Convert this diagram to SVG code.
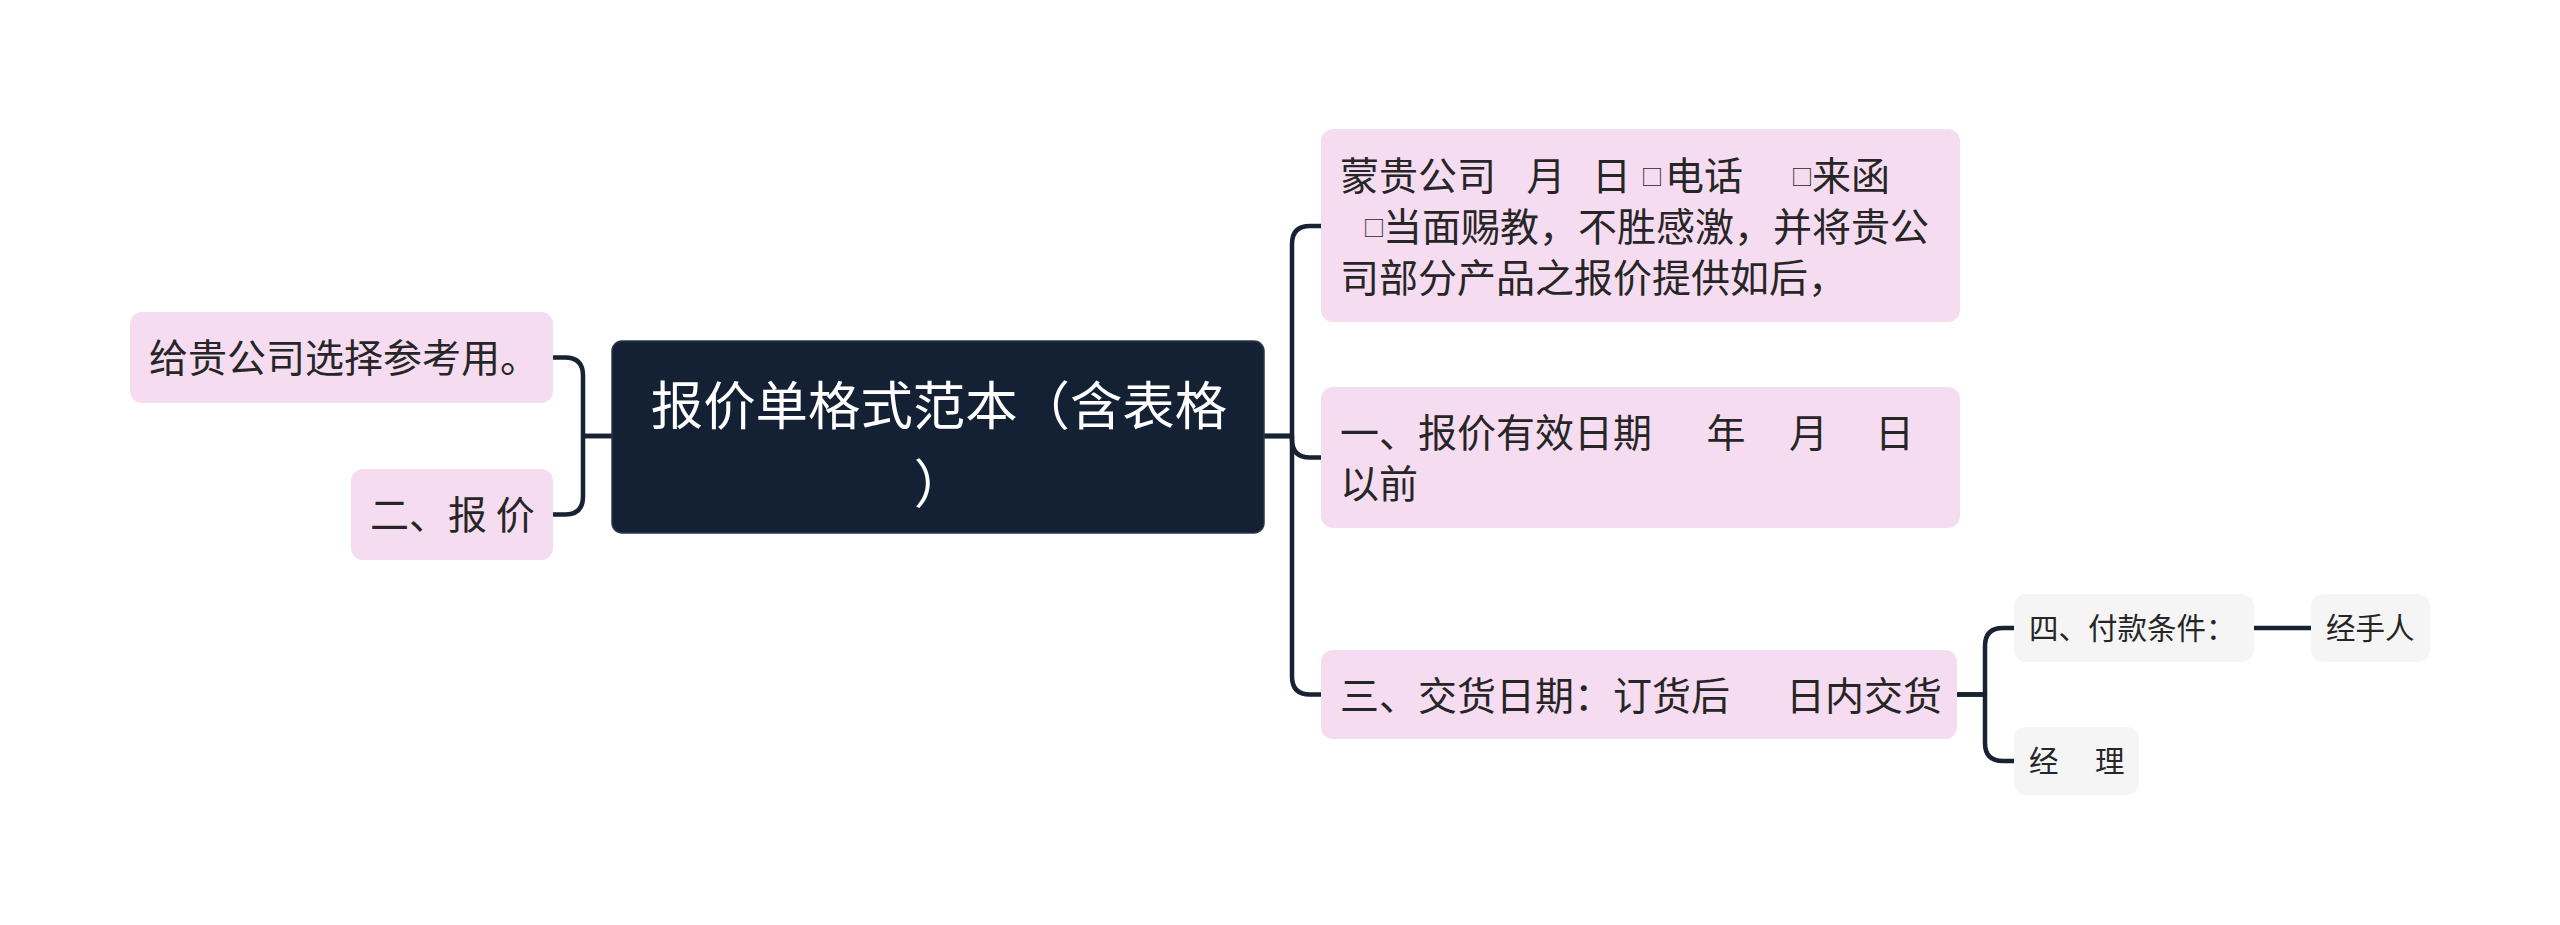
<svg xmlns="http://www.w3.org/2000/svg" width="2560" height="925" viewBox="0 0 2560 925">
<style>
.pink{fill:#f6dcf1}
.gray{fill:#f5f5f5}
.root{fill:#142033;stroke:#2a3648;stroke-width:1.5}
.t{font-family:"Noto Sans CJK SC","Noto Sans",sans-serif;font-size:39px;fill:#262626}
.sq{font-size:22px}
.ts{font-size:29.5px}
.tc{font-size:52.4px;fill:#ffffff}
.conn{fill:none;stroke:#172233;stroke-width:4.5;stroke-linecap:round;stroke-linejoin:round}
</style>
<rect width="2560" height="925" fill="#ffffff"/>
<g id="connectors">
<path class="conn" d="M612,436 H583 V375.5 Q583,357.5 565,357.5 H553"/>
<path class="conn" d="M612,436 H583 V496.5 Q583,514.5 565,514.5 H553"/>
<path class="conn" d="M1264,436 H1292 V244 Q1292,226 1310,226 H1321"/>
<path class="conn" d="M1264,436 H1292 V439.5 Q1292,457.5 1310,457.5 H1321"/>
<path class="conn" d="M1264,436 H1292 V676.5 Q1292,694.5 1310,694.5 H1321"/>
<path class="conn" d="M1957,694.5 H1985 V646 Q1985,628 2003,628 H2014"/>
<path class="conn" d="M1957,694.5 H1985 V743 Q1985,761 2003,761 H2014"/>
<path class="conn" d="M2254,628 H2311"/>
</g>
<g id="root">
<rect class="root" x="612" y="341" width="652" height="192" rx="10"/>
<text class="t tc" text-anchor="middle"><tspan x="939" y="424.5">报价单格式范本（含表格</tspan><tspan x="940" y="502.5">）</tspan></text>
</g>
<g id="left1">
<rect class="pink" x="130" y="312" width="423" height="91" rx="12"/>
<text class="t" x="149" y="372">给贵公司选择参考用。</text>
</g>
<g id="left2">
<rect class="pink" x="351" y="469" width="202" height="91" rx="12"/>
<text class="t" x="370" y="529" xml:space="preserve">二、报 价</text>
</g>
<g id="right1">
<rect class="pink" x="1321" y="129" width="639" height="193" rx="12"/>
<text class="t" xml:space="preserve"><tspan x="1340" y="190">蒙贵公司   </tspan><tspan x="1526.5" y="190">月  </tspan><tspan x="1592" y="190">日 </tspan><tspan class="sq" x="1641" y="185">□</tspan><tspan x="1665" y="190">电话     </tspan><tspan class="sq" x="1791" y="185">□</tspan><tspan x="1812" y="190">来函</tspan><tspan x="1340" y="241">  </tspan><tspan class="sq" x="1363" y="236">□</tspan><tspan x="1383" y="241">当面赐教，不胜感激，并将贵公</tspan><tspan x="1340" y="292">司部分产品之报价提供如后，</tspan></text>
</g>
<g id="right2">
<rect class="pink" x="1321" y="387" width="639" height="141" rx="12"/>
<text class="t" xml:space="preserve"><tspan x="1340" y="447">一、报价有效日期      </tspan><tspan x="1706.5" y="447">年    </tspan><tspan x="1789" y="447">月    </tspan><tspan x="1875" y="447">日</tspan><tspan x="1340" y="498">以前</tspan></text>
</g>
<g id="right3">
<rect class="pink" x="1321" y="650" width="636" height="89" rx="12"/>
<text class="t" xml:space="preserve"><tspan x="1340" y="710">三、交货日期：订货后      </tspan><tspan x="1786" y="710">日内交货</tspan></text>
</g>
<g id="sub1">
<rect class="gray" x="2014" y="594" width="240" height="68" rx="12"/>
<text class="t ts" x="2029" y="639">四、付款条件：</text>
</g>
<g id="sub2">
<rect class="gray" x="2311" y="594" width="119" height="68" rx="12"/>
<text class="t ts" x="2326" y="639">经手人</text>
</g>
<g id="sub3">
<rect class="gray" x="2014" y="727" width="125" height="68" rx="12"/>
<text class="t ts" xml:space="preserve"><tspan x="2029" y="772">经    </tspan><tspan x="2095" y="772">理</tspan></text>
</g>
</svg>
